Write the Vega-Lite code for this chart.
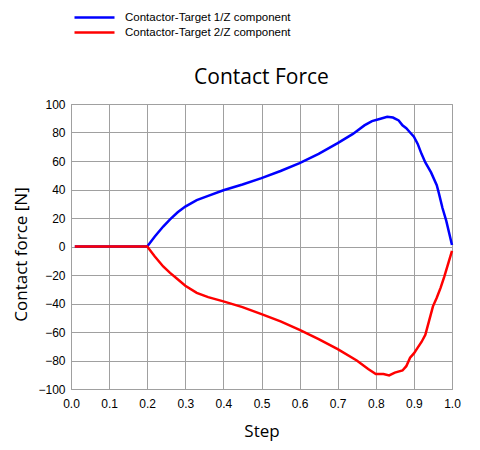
{
  "$schema": "https://vega.github.io/schema/vega-lite/v6.json",
  "width": 381,
  "height": 285,
  "autosize": {"type": "none"},
  "padding": {"left": 71, "top": 104, "right": 28, "bottom": 61},
  "background": "white",
  "title": {"text": "Contact Force", "fontSize": 21, "font": "Open Sans", "fontWeight": "normal", "color": "#000000", "anchor": "middle", "frame": "group", "baseline": "alphabetic", "offset": -97},
  "config": {
    "view": {"stroke": "#a0a0a0", "strokeWidth": 1},
    "axis": {"gridColor": "#a0a0a0", "gridOpacity": 1, "domainColor": "#a0a0a0", "ticks": false, "labelFont": "Liberation Sans", "labelFontSize": 12, "labelColor": "#000000", "titleFont": "Open Sans", "titleFontSize": 17, "titleFontWeight": "normal", "titleColor": "#000000"}
  },
  "data": {"values": [
    {"step": 0.01, "force": 0, "series": "Contactor-Target 1/Z component"},
    {"step": 0.1, "force": 0, "series": "Contactor-Target 1/Z component"},
    {"step": 0.2, "force": 0, "series": "Contactor-Target 1/Z component"},
    {"step": 0.22, "force": 7, "series": "Contactor-Target 1/Z component"},
    {"step": 0.242, "force": 14, "series": "Contactor-Target 1/Z component"},
    {"step": 0.26, "force": 19, "series": "Contactor-Target 1/Z component"},
    {"step": 0.28, "force": 24, "series": "Contactor-Target 1/Z component"},
    {"step": 0.3, "force": 28, "series": "Contactor-Target 1/Z component"},
    {"step": 0.33, "force": 32.5, "series": "Contactor-Target 1/Z component"},
    {"step": 0.36, "force": 35.5, "series": "Contactor-Target 1/Z component"},
    {"step": 0.4, "force": 39.5, "series": "Contactor-Target 1/Z component"},
    {"step": 0.45, "force": 43.5, "series": "Contactor-Target 1/Z component"},
    {"step": 0.5, "force": 48, "series": "Contactor-Target 1/Z component"},
    {"step": 0.55, "force": 53, "series": "Contactor-Target 1/Z component"},
    {"step": 0.6, "force": 58.5, "series": "Contactor-Target 1/Z component"},
    {"step": 0.65, "force": 65, "series": "Contactor-Target 1/Z component"},
    {"step": 0.7, "force": 72.5, "series": "Contactor-Target 1/Z component"},
    {"step": 0.74, "force": 79, "series": "Contactor-Target 1/Z component"},
    {"step": 0.77, "force": 85, "series": "Contactor-Target 1/Z component"},
    {"step": 0.79, "force": 88, "series": "Contactor-Target 1/Z component"},
    {"step": 0.81, "force": 89.5, "series": "Contactor-Target 1/Z component"},
    {"step": 0.83, "force": 91, "series": "Contactor-Target 1/Z component"},
    {"step": 0.845, "force": 90.5, "series": "Contactor-Target 1/Z component"},
    {"step": 0.86, "force": 88.5, "series": "Contactor-Target 1/Z component"},
    {"step": 0.87, "force": 85, "series": "Contactor-Target 1/Z component"},
    {"step": 0.88, "force": 83, "series": "Contactor-Target 1/Z component"},
    {"step": 0.89, "force": 80, "series": "Contactor-Target 1/Z component"},
    {"step": 0.9, "force": 77, "series": "Contactor-Target 1/Z component"},
    {"step": 0.91, "force": 72, "series": "Contactor-Target 1/Z component"},
    {"step": 0.92, "force": 65, "series": "Contactor-Target 1/Z component"},
    {"step": 0.93, "force": 59, "series": "Contactor-Target 1/Z component"},
    {"step": 0.945, "force": 52, "series": "Contactor-Target 1/Z component"},
    {"step": 0.96, "force": 43, "series": "Contactor-Target 1/Z component"},
    {"step": 0.965, "force": 38, "series": "Contactor-Target 1/Z component"},
    {"step": 0.975, "force": 27, "series": "Contactor-Target 1/Z component"},
    {"step": 0.985, "force": 18, "series": "Contactor-Target 1/Z component"},
    {"step": 1.0, "force": 1, "series": "Contactor-Target 1/Z component"},
    {"step": 0.01, "force": 0, "series": "Contactor-Target 2/Z component"},
    {"step": 0.1, "force": 0, "series": "Contactor-Target 2/Z component"},
    {"step": 0.2, "force": 0, "series": "Contactor-Target 2/Z component"},
    {"step": 0.22, "force": -7, "series": "Contactor-Target 2/Z component"},
    {"step": 0.242, "force": -14, "series": "Contactor-Target 2/Z component"},
    {"step": 0.26, "force": -18.5, "series": "Contactor-Target 2/Z component"},
    {"step": 0.28, "force": -23, "series": "Contactor-Target 2/Z component"},
    {"step": 0.3, "force": -27.5, "series": "Contactor-Target 2/Z component"},
    {"step": 0.33, "force": -32.5, "series": "Contactor-Target 2/Z component"},
    {"step": 0.36, "force": -35.5, "series": "Contactor-Target 2/Z component"},
    {"step": 0.4, "force": -38.5, "series": "Contactor-Target 2/Z component"},
    {"step": 0.45, "force": -42.5, "series": "Contactor-Target 2/Z component"},
    {"step": 0.5, "force": -47.5, "series": "Contactor-Target 2/Z component"},
    {"step": 0.55, "force": -52.5, "series": "Contactor-Target 2/Z component"},
    {"step": 0.6, "force": -58.5, "series": "Contactor-Target 2/Z component"},
    {"step": 0.65, "force": -65, "series": "Contactor-Target 2/Z component"},
    {"step": 0.7, "force": -72, "series": "Contactor-Target 2/Z component"},
    {"step": 0.75, "force": -80, "series": "Contactor-Target 2/Z component"},
    {"step": 0.78, "force": -86, "series": "Contactor-Target 2/Z component"},
    {"step": 0.8, "force": -89.5, "series": "Contactor-Target 2/Z component"},
    {"step": 0.82, "force": -89.5, "series": "Contactor-Target 2/Z component"},
    {"step": 0.835, "force": -90.5, "series": "Contactor-Target 2/Z component"},
    {"step": 0.85, "force": -88.5, "series": "Contactor-Target 2/Z component"},
    {"step": 0.87, "force": -87, "series": "Contactor-Target 2/Z component"},
    {"step": 0.88, "force": -84, "series": "Contactor-Target 2/Z component"},
    {"step": 0.89, "force": -78, "series": "Contactor-Target 2/Z component"},
    {"step": 0.9, "force": -75, "series": "Contactor-Target 2/Z component"},
    {"step": 0.91, "force": -71, "series": "Contactor-Target 2/Z component"},
    {"step": 0.92, "force": -67, "series": "Contactor-Target 2/Z component"},
    {"step": 0.93, "force": -62, "series": "Contactor-Target 2/Z component"},
    {"step": 0.94, "force": -52, "series": "Contactor-Target 2/Z component"},
    {"step": 0.95, "force": -42, "series": "Contactor-Target 2/Z component"},
    {"step": 0.96, "force": -36, "series": "Contactor-Target 2/Z component"},
    {"step": 0.97, "force": -29, "series": "Contactor-Target 2/Z component"},
    {"step": 0.98, "force": -21, "series": "Contactor-Target 2/Z component"},
    {"step": 0.99, "force": -12, "series": "Contactor-Target 2/Z component"},
    {"step": 1.0, "force": -3, "series": "Contactor-Target 2/Z component"}
  ]},
  "mark": {"type": "line", "strokeWidth": 2.5},
  "encoding": {
    "x": {"field": "step", "type": "quantitative", "title": "Step", "scale": {"domain": [0, 1], "nice": false},
      "axis": {"values": [0, 0.1, 0.2, 0.3, 0.4, 0.5, 0.6, 0.7, 0.8, 0.9, 1.0], "format": ".1f", "labelPadding": 9, "titlePadding": 14, "labelFlush": false}},
    "y": {"field": "force", "type": "quantitative", "title": "Contact force [N]", "scale": {"domain": [-100, 100], "nice": false},
      "axis": {"values": [-100, -80, -60, -40, -20, 0, 20, 40, 60, 80, 100], "labelPadding": 6, "titlePadding": 7, "titleY": 150, "labelFlush": false}},
    "color": {"field": "series", "type": "nominal",
      "scale": {"domain": ["Contactor-Target 1/Z component", "Contactor-Target 2/Z component"], "range": ["#0000ff", "#ff0000"]},
      "legend": {"title": null, "orient": "none", "legendX": 14, "legendY": -96, "padding": 0, "symbolType": "M-2.5,0H2.5", "symbolSize": 256, "symbolStrokeWidth": 2.5, "labelFont": "Liberation Sans", "labelFontSize": 11.5, "labelColor": "#000000", "labelOffset": 21, "labelLimit": 0, "rowPadding": 0}
    }
  }
}
